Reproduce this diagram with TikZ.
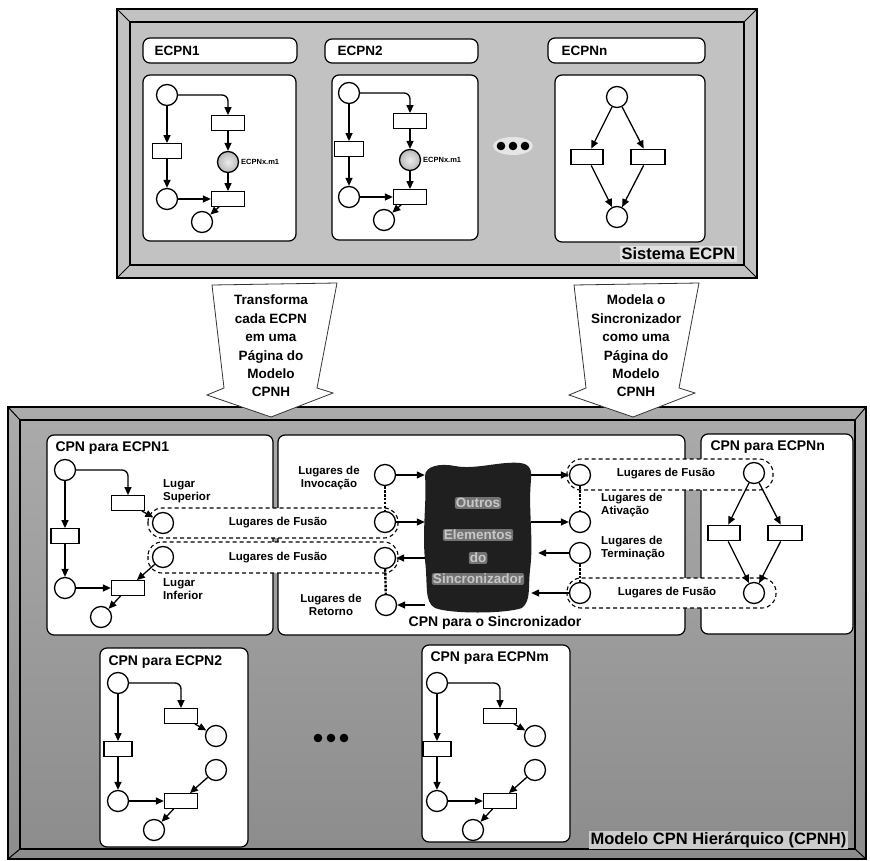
\documentclass[tikz,border=0pt]{standalone}
\usepackage{fontspec}
\setmainfont{Liberation Sans}
\usetikzlibrary{arrows.meta,calc}
\definecolor{topgray}{HTML}{C2C2C2}
\definecolor{lowgrayA}{HTML}{ABABAB}
\definecolor{lowgrayB}{HTML}{8C8C8C}
\begin{document}
\begin{tikzpicture}[x=1pt,y=-1pt,
  every node/.style={font=\bfseries},
  place/.style={circle,draw,line width=1.3pt,fill=white,minimum size=21pt,inner sep=0pt},
  trans/.style={rectangle,draw,line width=1.3pt,fill=white,minimum width=33pt,minimum height=14.5pt,inner sep=0pt},
  arc/.style={line width=1.3pt,-{Triangle[length=8pt,width=7pt]}},
  panel/.style={draw,line width=1.2pt,fill=white,rounded corners=7pt},
  fusion/.style={draw,line width=1.1pt,dash pattern=on 4pt off 3pt,fill=white,rounded corners=14pt},
  link/.style={line width=2.4pt,dash pattern=on 2.6pt off 1.3pt},
  blockarrow/.style={fill=white,draw=black!80,line width=0.8pt},
  bigtxt/.style={font=\bfseries\fontsize{13.5}{18.4}\selectfont},
  midtxt/.style={font=\bfseries\fontsize{14}{16}\selectfont},
  smalltxt/.style={font=\bfseries\fontsize{11.5}{12.5}\selectfont,inner sep=0pt},
  tinytxt/.style={font=\bfseries\fontsize{7.5}{8}\selectfont,inner sep=0pt},
  hugetxt/.style={font=\bfseries\fontsize{16.5}{18}\selectfont,fill=white!88!black,inner sep=1.5pt},
  topnet/.pic={
    \node[place] (-p1) at (0,0) {};
    \node[trans] (-t2) at (61,28) {};
    \node[trans,minimum width=29pt] (-t1) at (0,56) {};
    \node[place,inner color=white!85!gray,outer color=gray!55] (-g) at (61,67) {};
    \node[place] (-p2) at (0,104) {};
    \node[trans] (-t3) at (61,104) {};
    \node[place] (-p3) at (35,127) {};
    \node[tinytxt,anchor=west] (-m) at (74,67) {ECPNx.m1};
    \draw[arc,rounded corners=6pt] (-p1) -| (-t2);
    \draw[arc] (-p1) -- (-t1);
    \draw[arc] (-t1) -- (-p2);
    \draw[arc] (-t2) -- (-g);
    \draw[arc] (-g) -- (-t3);
    \draw[arc] (-p2) -- (-t3);
    \draw[arc] (-t3) -- (-p3);
  },
  cpnnet/.pic={
    \node[place] (-p1) at (0,0) {};
    \node[trans] (-t2) at (63,33) {};
    \node[trans,minimum width=28pt] (-t1) at (0,66) {};
    \node[place] (-p2) at (0,118) {};
    \node[trans] (-t3) at (63,118) {};
    \node[place] (-p3) at (36,147) {};
    \node[place] (-ps) at (98,53) {};
    \node[place] (-pi) at (98,87) {};
    \draw[arc,rounded corners=6pt] (-p1) -| (-t2);
    \draw[arc] (-p1) -- (-t1);
    \draw[arc] (-t1) -- (-p2);
    \draw[arc] (-p2) -- (-t3);
    \draw[arc] (-t2) -- (-ps);
    \draw[arc] (-pi) -- (-t3);
    \draw[arc] (-t3) -- (-p3);
  },
  diamondnet/.pic={
    \node[place] (-pt) at (0,0) {};
    \node[trans,minimum width=32pt,minimum height=15.5pt] (-tl) at (-30,60) {};
    \node[trans,minimum width=34pt,minimum height=15.5pt] (-tr) at (31,60) {};
    \node[place] (-pb) at (0,120) {};
    \draw[arc] (-pt) -- (-tl);
    \draw[arc] (-pt) -- (-tr);
    \draw[arc] (-tl) -- (-pb);
    \draw[arc] (-tr) -- (-pb);
  }
]
\useasboundingbox (0,0) rectangle (870,861);
\fill[white] (0,0) rectangle (870,861);

% ---------- ECPN system frame ----------
\fill[topgray] (117,9) rectangle (757,278);
\draw[line width=1.5pt] (117,9) rectangle (757,278);
\draw[line width=1.1pt] (130,22) rectangle (744,265);
\draw[line width=1pt] (117,9) -- (130,22) (757,9) -- (744,22)
  (117,278) -- (130,265) (757,278) -- (744,265);

\draw[panel] (143,38) rectangle (297,63);
\node[bigtxt,anchor=west] (l1) at (151,51) {ECPN1};
\draw[panel] (143,75) rectangle (296,241);
\draw[panel] (325,39) rectangle (478,63);
\node[bigtxt,anchor=west] (l2) at (334,51) {ECPN2};
\draw[panel] (332,75) rectangle (478,240);
\draw[panel] (548,38) rectangle (705,63);
\node[bigtxt,anchor=west] (ln) at (558,51) {ECPNn};
\draw[panel] (555,75) rectangle (705,242);

\pic (e1) at (167,95) {topnet};
\pic (e2) at (349,93) {topnet};
\pic (en) at (617,97) {diamondnet};

\fill[white,opacity=0.6] (513,146) ellipse (20 and 9);
\foreach \x in {501,513,525} \fill (\x,146) circle (4.3);

\node[hugetxt,anchor=east] (sys) at (737,254) {Sistema ECPN};

% ---------- CPNH frame ----------
\shade[top color=lowgrayA,bottom color=lowgrayB] (8,407) rectangle (866,859);
\draw[line width=1.5pt] (8,407) rectangle (866,859);
\draw[line width=1.1pt] (20,420) rectangle (855,849);
\draw[line width=1pt] (8,407) -- (20,420) (866,407) -- (855,420)
  (8,859) -- (20,849) (866,859) -- (855,849);

% ---------- block arrows ----------
\draw[blockarrow] (212,285) -- (337,283) -- (317,388) -- (333,393) -- (271,417)
  -- (207,395) -- (224,388) -- cycle;
\draw[blockarrow] (574,285) -- (699,283) -- (679,388) -- (695,393) -- (633,417)
  -- (569,395) -- (586,388) -- cycle;
\node[bigtxt,align=center] (ta) at (271,346)
  {Transforma\\cada ECPN\\em uma\\Página do\\Modelo\\CPNH};
\node[bigtxt,align=center] (tb) at (636,346)
  {Modela o\\Sincronizador\\como uma\\Página do\\Modelo\\CPNH};

% ---------- pages of the CPNH model ----------
\draw[panel] (47,435) rectangle (273,635);
\node[midtxt,anchor=west] (c1) at (52,448) {CPN para ECPN1};
\draw[panel] (278,435) rectangle (685,635);
\draw[panel] (701,434) rectangle (853,634);
\node[midtxt,anchor=west] (cn) at (707,447) {CPN para ECPNn};
\draw[panel] (100,648) rectangle (248,847);
\node[midtxt,anchor=west] (c2) at (105,662) {CPN para ECPN2};
\draw[panel] (422,645) rectangle (570,842);
\node[midtxt,anchor=west] (cm) at (427,658) {CPN para ECPNm};

% fusion sets
\draw[fusion] (148,508) rectangle (398,538);
\draw[fusion] (148,542) rectangle (398,573);
\draw[fusion] (567,459) rectangle (773,490);
\draw[fusion] (567,578) rectangle (776,608);
\node[smalltxt] (f1) at (278,523) {Lugares de Fusão};
\node[smalltxt] (f2) at (278,558) {Lugares de Fusão};
\node[smalltxt] (f3) at (666,474) {Lugares de Fusão};
\node[smalltxt] (f4) at (667,593) {Lugares de Fusão};

\pic (c1n) at (65,470) {cpnnet};
\pic (c2n) at (118,683) {cpnnet};
\pic (cmn) at (437,683) {cpnnet};
\pic (cnn) at (754,473) {diamondnet};

\node[smalltxt,anchor=west,align=left] (ls) at (163,491) {Lugar\\Superior};
\node[smalltxt,anchor=west,align=left] (li) at (163,589) {Lugar\\Inferior};

% synchronizer page
\fill[black!88] (425,476) .. controls (425,466) and (440,463) .. (455,466)
  .. controls (475,470) and (500,461) .. (520,463)
  .. controls (530,464) and (532,470) .. (531,480)
  .. controls (528,510) and (534,540) .. (530,570)
  .. controls (528,590) and (531,600) .. (522,608)
  .. controls (505,614) and (450,614) .. (435,608)
  .. controls (424,602) and (428,585) .. (425,560)
  .. controls (422,530) and (427,500) .. (425,476) -- cycle;
\node[minimum width=106pt,minimum height=147pt,inner sep=0pt] (blob) at (478,538) {};
\foreach \t/\y/\n in {Outros/503/o1,Elementos/535/o2,do/558/o3,Sincronizador/579/o4}
  \node[font=\bfseries\fontsize{13.5}{14}\selectfont,text=white!78!black,
        fill=black!55,inner sep=1pt,rounded corners=2pt] (\n) at (478,\y) {\t};

\node[place] (sInv) at (385,475) {};
\node[place] (sFu1) at (385,522) {};
\node[place] (sFu2) at (385,558) {};
\node[place] (sRet) at (386,605) {};
\node[place] (rTop) at (580,475) {};
\node[place] (rAti) at (580,522) {};
\node[place] (rTer) at (580,553) {};
\node[place] (rFu) at (580,593) {};

\draw[link] (sInv) -- (sFu1);
\draw[link] (sFu2) -- (sRet);
\draw[link] (rTop) -- (rAti);
\draw[link] (rTer) -- (rFu);

\draw[arc] (sInv) -- (sInv -| blob.west);
\draw[arc] (sFu1) -- (sFu1 -| blob.west);
\draw[arc] (sFu2 -| blob.west) -- (sFu2);
\draw[arc] (sRet -| blob.west) -- (sRet);
\draw[arc] (rTop -| blob.east) -- (rTop);
\draw[arc] (rAti -| blob.east) -- (rAti);
\draw[arc,shorten >=7pt] (rTer) -- (rTer -| blob.east);
\draw[arc] (rFu) -- (rFu -| blob.east);

\node[smalltxt,align=center] (lInv) at (329,478) {Lugares de\\Invocação};
\node[smalltxt,align=center] (lRet) at (331,605) {Lugares de\\Retorno};
\node[smalltxt,anchor=west,align=left] (lAti) at (601,505) {Lugares de\\Ativação};
\node[smalltxt,anchor=west,align=left] (lTer) at (601,548) {Lugares de\\Terminação};
\node[midtxt] (cs) at (495,623) {CPN para o Sincronizador};

% continuation dots and model name
\foreach \x in {318,331,344} \fill (\x,738) circle (4.3);
\node[hugetxt,anchor=east,fill=white!80!black] (mod) at (848,840) {Modelo CPN Hierárquico (CPNH)};
\end{tikzpicture}
\end{document}
